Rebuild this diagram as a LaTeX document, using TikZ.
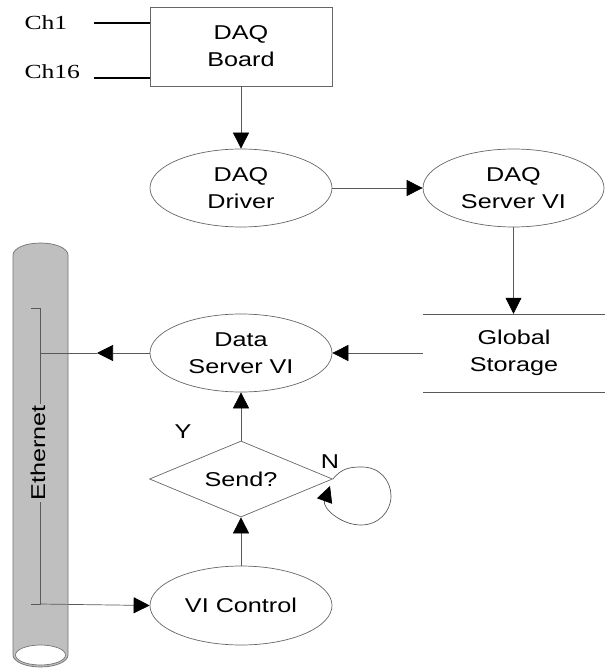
\documentclass[tikz,border=0pt]{standalone}
\usepackage{fontspec}
\setmainfont{Liberation Sans}[FakeStretch=1.26]
\newfontfamily\chfont{Liberation Serif}[FakeStretch=1.28]
\usepackage{xcolor}
\usepackage{tikz}
\usetikzlibrary{
  shapes.geometric, arrows.meta, positioning, calc
}
\tikzset{
  procnode/.style={
    ellipse, draw=black!60, line width=0.7pt, align=center,
    minimum width=182pt, minimum height=78pt, inner sep=0pt,
    font=\fontsize{20}{27}\selectfont
  },
  boardbox/.style={
    rectangle, draw=black!60, line width=0.7pt, align=center,
    minimum width=182pt, minimum height=79pt, inner sep=0pt,
    font=\fontsize{20}{27}\selectfont
  },
  storebox/.style={
    rectangle, align=center, minimum width=182pt,
    minimum height=78pt, inner sep=0pt,
    font=\fontsize{20}{27}\selectfont
  },
  decisionnode/.style={
    diamond, draw=black!60, line width=0.7pt, aspect=2.4,
    minimum width=183pt, minimum height=76pt, inner sep=0pt,
    font=\fontsize{20}{27}\selectfont
  },
  flowline/.style={draw=black!65, line width=0.7pt},
  flowarrow/.style={
    flowline, -{Triangle[length=16pt, width=16pt, color=black]}
  },
  flowlabel/.style={font=\fontsize{20}{27}\selectfont},
  chlabel/.style={font=\chfont\fontsize{20}{22}\selectfont, anchor=west},
  chline/.style={draw=black, line width=1.4pt},
}

\begin{document}
\begin{tikzpicture}[x=1pt, y=-1pt]
  \useasboundingbox (0,0) rectangle (605,668);

  % Ethernet pipe
  \draw[black!55, fill=black!25, line width=0.7pt]
    (13,255) -- (13,655)
    arc[start angle=180, end angle=360, x radius=27.5pt, y radius=12pt]
    -- (68,255)
    arc[start angle=0, end angle=180, x radius=27.5pt, y radius=12pt]
    -- cycle;
  \draw[black!55, fill=white, line width=0.7pt]
    (40.5,655) ellipse [x radius=25pt, y radius=10pt];

  % bracket inside the pipe
  \coordinate (nettop) at (40,308);
  \coordinate (netbot) at (40,604);
  \coordinate (netmid) at (40,353);
  \draw[flowline] (31,308) -- (nettop) -- (netbot) -- (31,604);
  \node[flowlabel, rotate=90, fill=black!25, inner sep=1pt] (ethlabel)
    at (38,453) {Ethernet};

  % nodes
  \node[boardbox] (board) at (241,46.5) {DAQ\\Board};
  \node[procnode] (drv) at (241,188) {DAQ\\Driver};
  \node[procnode, minimum width=181pt] (dsv) at (513.5,188) {DAQ\\Server VI};
  \node[storebox] (gs) at (514,353) {Global\\Storage};
  \node[procnode] (dat) at (241,353) {Data\\Server VI};
  \node[decisionnode] (send) at (241,479) {Send?};
  \node[procnode, minimum height=79pt] (vic) at (241,605.5) {VI Control};

  \draw[flowline] (423,314) -- (605,314);
  \draw[flowline] (423,392) -- (605,392);

  % channels
  \node[chlabel] (ch1) at (21,23) {Ch1};
  \node[chlabel] (ch16) at (21,72) {Ch16};
  \coordinate (ch1end) at (94,23);
  \coordinate (ch16end) at (94,78);
  \draw[chline] (ch1end) -- (ch1end -| board.west);
  \draw[chline] (ch16end) -- (ch16end -| board.west);

  % flow
  \draw[flowarrow] (board.south) -- (drv.north);
  \draw[flowarrow] (drv.east) -- (dsv.west);
  \draw[flowarrow] (dsv.south) -- (dsv.south |- gs.north);
  \draw[flowarrow] (gs.west) -- (dat.east);
  \coordinate (tipnet) at (97,353);
  \draw[flowarrow] (dat.west) -- (tipnet);
  \draw[flowline] (tipnet) -- (netmid);
  \draw[flowarrow] (send.north) -- (dat.south);
  \draw[flowarrow] (vic.north) -- (send.south);
  \draw[flowarrow] (netbot) -- (vic.west);

  % no-send loop
  \draw[flowarrow] (send.east)
    .. controls (342,468) and (350,467) .. (362,467)
    .. controls (380,467) and (391,481) .. (391,496)
    .. controls (391,512) and (378,525) .. (361,525)
    .. controls (341,525) and (322,508) .. (330,486);

  \node[flowlabel] (ylabel) at (183,432) {Y};
  \node[flowlabel] (nlabel) at (330,462) {N};
\end{tikzpicture}
\end{document}
